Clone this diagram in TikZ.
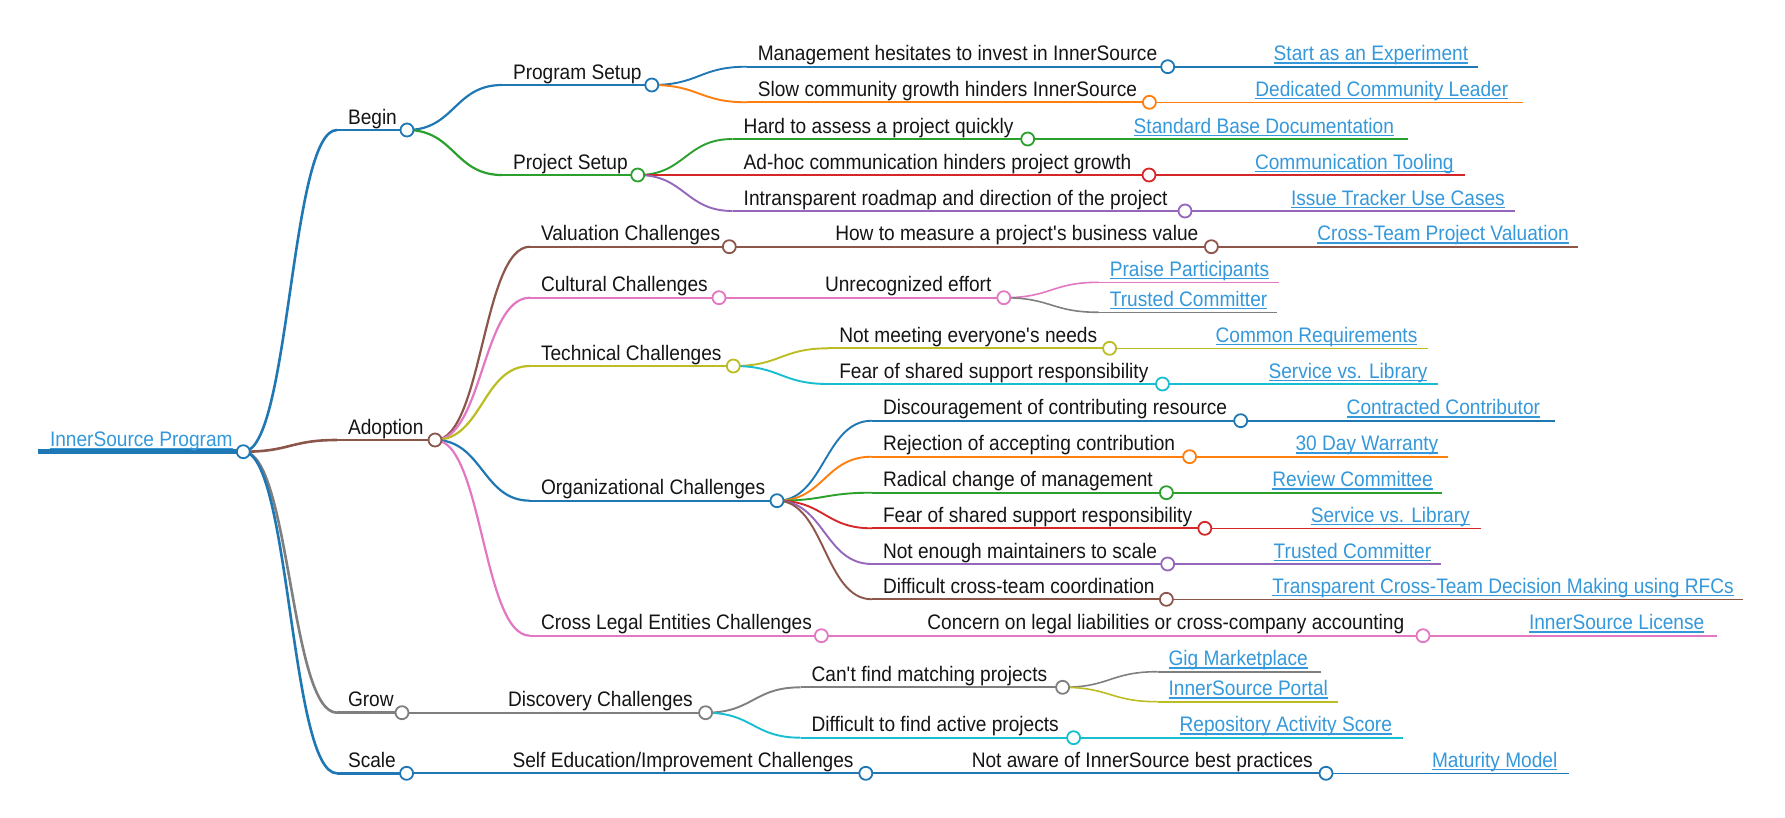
\documentclass[tikz,border=0pt]{standalone}
\usepackage{fontspec}
\setmainfont{Liberation Sans}[FakeStretch=0.91]
\usetikzlibrary{calc}
\definecolor{cblue}{HTML}{1F77B4}
\definecolor{corange}{HTML}{FF7F0E}
\definecolor{cgreen}{HTML}{2CA02C}
\definecolor{cred}{HTML}{D62728}
\definecolor{cpurple}{HTML}{9467BD}
\definecolor{cbrown}{HTML}{8C564B}
\definecolor{cpink}{HTML}{E377C2}
\definecolor{cgray}{HTML}{7F7F7F}
\definecolor{colive}{HTML}{BCBD22}
\definecolor{ccyan}{HTML}{17BECF}
\definecolor{linkc}{HTML}{3498DB}
\definecolor{txtc}{HTML}{141414}
\tikzset{
  txt/.style={inner sep=0pt, outer sep=0pt, font=\fontsize{21}{24}\selectfont, text=txtc},
  lnk/.style={txt, text=linkc},
  knob/.style={fill=white, line width=1.8pt},
  uline/.style={draw=linkc, line width=1.2pt},
}
\newcommand{\ap}{\textquotesingle}
% name, start x, end x, y, colour, width
\newcommand{\mmline}[6]{%
  \coordinate (#1-s) at (#2,#4);
  \coordinate (#1) at (#3,#4);
  \draw[draw=#5, line width=#6pt] (#1-s) -- (#1);}
% parent, child, colour, width
\newcommand{\mmlink}[4]{%
  \coordinate (mid) at ($(#1)!0.5!(#2-s)$);
  \draw[draw=#3, line width=#4pt] (#1) .. controls (mid |- #1) and (mid |- #2-s) .. (#2-s);}
\newcommand{\mmtext}[2]{%
  \node[txt, anchor=base west] (#1-t) at ([shift={(11pt,6pt)}]#1-s) {#2};}
\newcommand{\mmleaf}[2]{%
  \node[lnk, anchor=base west] (#1-t) at ([shift={(11pt,6pt)}]#1-s) {#2};
  \draw[uline] ([yshift=-2.3pt]#1-t.base west) -- ([yshift=-2.3pt]#1-t.base east);}
\newcommand{\mmknob}[2]{\draw[knob, draw=#2] (#1) circle[radius=6.5pt];}
\begin{document}
\begin{tikzpicture}[x=1pt,y=-1pt]
\useasboundingbox (0,0) rectangle (1785,817);
% ---------- lines ----------
\mmline{root}{38}{243.3}{451.7}{cblue}{4.6}
% level 1
\mmline{begin}{337}{407}{130}{cblue}{2.6}
\mmline{adoption}{337}{435}{440}{cbrown}{2.6}
\mmline{grow}{337}{402}{712.7}{cgray}{2.6}
\mmline{scale}{337}{406.6}{773.3}{cblue}{2.6}
% level 2
\mmline{progsetup}{502}{651.8}{85}{cblue}{2.2}
\mmline{projsetup}{502}{637.7}{175}{cgreen}{2.2}
\mmline{valuation}{530}{729.3}{246.7}{cbrown}{2.2}
\mmline{cultural}{530}{719}{297.7}{cpink}{2.2}
\mmline{technical}{530}{733.3}{366}{colive}{2.2}
\mmline{organizational}{530}{777}{500.7}{cblue}{2.2}
\mmline{crosslegal}{530}{821.4}{635.7}{cpink}{2.2}
\mmline{discovery}{497}{705.6}{712.7}{cgray}{2.2}
\mmline{selfed}{501.6}{865.8}{773.3}{cblue}{2.2}
% level 3
\mmline{mgmt}{746.8}{1167.7}{66.7}{cblue}{1.9}
\mmline{slow}{746.8}{1149.4}{102.3}{corange}{1.9}
\mmline{hard}{732.7}{1027.7}{139}{cgreen}{1.9}
\mmline{adhoc}{732.7}{1149}{175}{cred}{1.9}
\mmline{intrans}{732.7}{1185}{211}{cpurple}{1.9}
\mmline{howmeasure}{824.3}{1211.4}{246.7}{cbrown}{1.9}
\mmline{unrec}{814}{1003.8}{297.7}{cpink}{1.9}
\mmline{notmeet}{828.3}{1109.6}{348.3}{colive}{1.9}
\mmline{feartech}{828.3}{1162.5}{384}{ccyan}{1.9}
\mmline{discour}{872}{1240.7}{420.7}{cblue}{1.9}
\mmline{reject}{872}{1189.6}{456.7}{corange}{1.9}
\mmline{radical}{872}{1166.4}{492.7}{cgreen}{1.9}
\mmline{fearorg}{872}{1204.8}{528.3}{cred}{1.9}
\mmline{notenough}{872}{1167.7}{564}{cpurple}{1.9}
\mmline{diffcoord}{872}{1166.4}{599.3}{cbrown}{1.9}
\mmline{concern}{916.4}{1423}{635.7}{cpink}{1.9}
\mmline{cantfind}{800.6}{1062.6}{687.3}{cgray}{1.9}
\mmline{difffind}{800.6}{1073.6}{737.7}{ccyan}{1.9}
\mmline{notaware}{960.8}{1326}{773.3}{cblue}{1.9}
% level 4
\mmline{startexp}{1262.7}{1478}{66.7}{cblue}{1.6}
\mmline{dedicated}{1244.4}{1522.5}{102.3}{corange}{1.6}
\mmline{standard}{1122.7}{1408}{139}{cgreen}{1.6}
\mmline{commtool}{1244}{1464.8}{175}{cred}{1.6}
\mmline{issue}{1280}{1515}{211}{cpurple}{1.6}
\mmline{crossval}{1306.4}{1577.5}{246.7}{cbrown}{1.6}
\mmline{praise}{1098.8}{1279}{282.3}{cpink}{1.6}
\mmline{trustedA}{1098.8}{1277}{312.3}{cgray}{1.6}
\mmline{commonreq}{1204.6}{1427.6}{348.3}{colive}{1.6}
\mmline{serviceA}{1257.5}{1437.7}{384}{ccyan}{1.6}
\mmline{contracted}{1335.7}{1554.8}{420.7}{cblue}{1.6}
\mmline{warranty}{1284.6}{1448.2}{456.7}{corange}{1.6}
\mmline{review}{1261.4}{1442}{492.7}{cgreen}{1.6}
\mmline{serviceB}{1299.8}{1481}{528.3}{cred}{1.6}
\mmline{trustedB}{1262.7}{1440.8}{564}{cpurple}{1.6}
\mmline{transparent}{1261.4}{1743}{599.3}{cbrown}{1.6}
\mmline{license}{1518}{1717}{635.7}{cpink}{1.6}
\mmline{gig}{1157.6}{1320.5}{671.7}{cgray}{1.6}
\mmline{portal}{1157.6}{1338}{701.7}{colive}{1.6}
\mmline{repo}{1168.6}{1403}{737.7}{ccyan}{1.6}
\mmline{maturity}{1421}{1569}{773.3}{cblue}{1.6}
% ---------- links ----------
\mmlink{root}{begin}{cblue}{2.6}
\mmlink{root}{adoption}{cbrown}{2.6}
\mmlink{root}{grow}{cgray}{2.6}
\mmlink{root}{scale}{cblue}{2.6}
\mmlink{begin}{progsetup}{cblue}{2.2}
\mmlink{begin}{projsetup}{cgreen}{2.2}
\mmlink{adoption}{valuation}{cbrown}{2.2}
\mmlink{adoption}{cultural}{cpink}{2.2}
\mmlink{adoption}{technical}{colive}{2.2}
\mmlink{adoption}{organizational}{cblue}{2.2}
\mmlink{adoption}{crosslegal}{cpink}{2.2}
\mmlink{grow}{discovery}{cgray}{2.2}
\mmlink{scale}{selfed}{cblue}{2.2}
\mmlink{progsetup}{mgmt}{cblue}{1.9}
\mmlink{progsetup}{slow}{corange}{1.9}
\mmlink{projsetup}{hard}{cgreen}{1.9}
\mmlink{projsetup}{adhoc}{cred}{1.9}
\mmlink{projsetup}{intrans}{cpurple}{1.9}
\mmlink{valuation}{howmeasure}{cbrown}{1.9}
\mmlink{cultural}{unrec}{cpink}{1.9}
\mmlink{technical}{notmeet}{colive}{1.9}
\mmlink{technical}{feartech}{ccyan}{1.9}
\mmlink{organizational}{discour}{cblue}{1.9}
\mmlink{organizational}{reject}{corange}{1.9}
\mmlink{organizational}{radical}{cgreen}{1.9}
\mmlink{organizational}{fearorg}{cred}{1.9}
\mmlink{organizational}{notenough}{cpurple}{1.9}
\mmlink{organizational}{diffcoord}{cbrown}{1.9}
\mmlink{crosslegal}{concern}{cpink}{1.9}
\mmlink{discovery}{cantfind}{cgray}{1.9}
\mmlink{discovery}{difffind}{ccyan}{1.9}
\mmlink{selfed}{notaware}{cblue}{1.9}
\mmlink{mgmt}{startexp}{cblue}{1.6}
\mmlink{slow}{dedicated}{corange}{1.6}
\mmlink{hard}{standard}{cgreen}{1.6}
\mmlink{adhoc}{commtool}{cred}{1.6}
\mmlink{intrans}{issue}{cpurple}{1.6}
\mmlink{howmeasure}{crossval}{cbrown}{1.6}
\mmlink{unrec}{praise}{cpink}{1.6}
\mmlink{unrec}{trustedA}{cgray}{1.6}
\mmlink{notmeet}{commonreq}{colive}{1.6}
\mmlink{feartech}{serviceA}{ccyan}{1.6}
\mmlink{discour}{contracted}{cblue}{1.6}
\mmlink{reject}{warranty}{corange}{1.6}
\mmlink{radical}{review}{cgreen}{1.6}
\mmlink{fearorg}{serviceB}{cred}{1.6}
\mmlink{notenough}{trustedB}{cpurple}{1.6}
\mmlink{diffcoord}{transparent}{cbrown}{1.6}
\mmlink{concern}{license}{cpink}{1.6}
\mmlink{cantfind}{gig}{cgray}{1.6}
\mmlink{cantfind}{portal}{colive}{1.6}
\mmlink{difffind}{repo}{ccyan}{1.6}
\mmlink{notaware}{maturity}{cblue}{1.6}
% ---------- knobs ----------
\mmknob{root}{cblue}
\mmknob{begin}{cblue}
\mmknob{adoption}{cbrown}
\mmknob{grow}{cgray}
\mmknob{scale}{cblue}
\mmknob{progsetup}{cblue}
\mmknob{projsetup}{cgreen}
\mmknob{valuation}{cbrown}
\mmknob{cultural}{cpink}
\mmknob{technical}{colive}
\mmknob{organizational}{cblue}
\mmknob{crosslegal}{cpink}
\mmknob{discovery}{cgray}
\mmknob{selfed}{cblue}
\mmknob{mgmt}{cblue}
\mmknob{slow}{corange}
\mmknob{hard}{cgreen}
\mmknob{adhoc}{cred}
\mmknob{intrans}{cpurple}
\mmknob{howmeasure}{cbrown}
\mmknob{unrec}{cpink}
\mmknob{notmeet}{colive}
\mmknob{feartech}{ccyan}
\mmknob{discour}{cblue}
\mmknob{reject}{corange}
\mmknob{radical}{cgreen}
\mmknob{fearorg}{cred}
\mmknob{notenough}{cpurple}
\mmknob{diffcoord}{cbrown}
\mmknob{concern}{cpink}
\mmknob{cantfind}{cgray}
\mmknob{difffind}{ccyan}
\mmknob{notaware}{cblue}
% ---------- texts ----------
\node[lnk, anchor=base west] (root-t) at (50,446) {InnerSource Program};
\draw[uline] ([yshift=-2.3pt]root-t.base west) -- ([yshift=-2.3pt]root-t.base east);
\mmtext{begin}{Begin}
\mmtext{adoption}{Adoption}
\mmtext{grow}{Grow}
\mmtext{scale}{Scale}
\mmtext{progsetup}{Program Setup}
\mmtext{projsetup}{Project Setup}
\mmtext{valuation}{Valuation Challenges}
\mmtext{cultural}{Cultural Challenges}
\mmtext{technical}{Technical Challenges}
\mmtext{organizational}{Organizational Challenges}
\mmtext{crosslegal}{Cross Legal Entities Challenges}
\mmtext{discovery}{Discovery Challenges}
\mmtext{selfed}{Self Education/Improvement Challenges}
\mmtext{mgmt}{Management hesitates to invest in InnerSource}
\mmtext{slow}{Slow community growth hinders InnerSource}
\mmtext{hard}{Hard to assess a project quickly}
\mmtext{adhoc}{Ad-hoc communication hinders project growth}
\mmtext{intrans}{Intransparent roadmap and direction of the project}
\mmtext{howmeasure}{How to measure a project\ap s business value}
\mmtext{unrec}{Unrecognized effort}
\mmtext{notmeet}{Not meeting everyone\ap s needs}
\mmtext{feartech}{Fear of shared support responsibility}
\mmtext{discour}{Discouragement of contributing resource}
\mmtext{reject}{Rejection of accepting contribution}
\mmtext{radical}{Radical change of management}
\mmtext{fearorg}{Fear of shared support responsibility}
\mmtext{notenough}{Not enough maintainers to scale}
\mmtext{diffcoord}{Difficult cross-team coordination}
\mmtext{concern}{Concern on legal liabilities or cross-company accounting}
\mmtext{cantfind}{Can\ap t find matching projects}
\mmtext{difffind}{Difficult to find active projects}
\mmtext{notaware}{Not aware of InnerSource best practices}
\mmleaf{startexp}{Start as an Experiment}
\mmleaf{dedicated}{Dedicated Community Leader}
\mmleaf{standard}{Standard Base Documentation}
\mmleaf{commtool}{Communication Tooling}
\mmleaf{issue}{Issue Tracker Use Cases}
\mmleaf{crossval}{Cross-Team Project Valuation}
\mmleaf{praise}{Praise Participants}
\mmleaf{trustedA}{Trusted Committer}
\mmleaf{commonreq}{Common Requirements}
\mmleaf{serviceA}{Service vs. Library}
\mmleaf{contracted}{Contracted Contributor}
\mmleaf{warranty}{30 Day Warranty}
\mmleaf{review}{Review Committee}
\mmleaf{serviceB}{Service vs. Library}
\mmleaf{trustedB}{Trusted Committer}
\mmleaf{transparent}{Transparent Cross-Team Decision Making using RFCs}
\mmleaf{license}{InnerSource License}
\mmleaf{gig}{Gig Marketplace}
\mmleaf{portal}{InnerSource Portal}
\mmleaf{repo}{Repository Activity Score}
\mmleaf{maturity}{Maturity Model}
\end{tikzpicture}
\end{document}
